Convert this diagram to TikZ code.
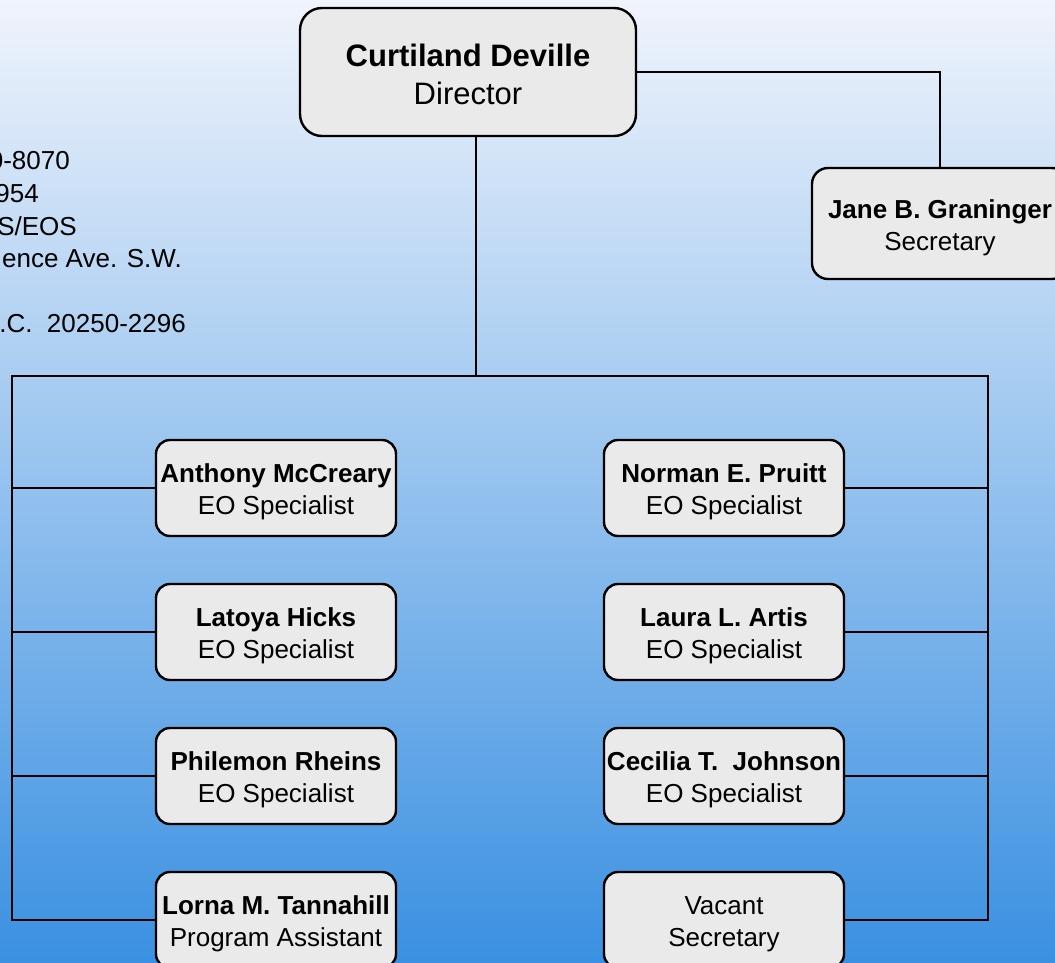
\documentclass[tikz,border=0pt]{standalone}
\usepackage{fontspec}
\setmainfont{Liberation Sans}
\definecolor{bgtop}{RGB}{240,244,252}
\definecolor{bgmid}{RGB}{160,192,238}
\definecolor{bgbot}{RGB}{58,144,225}
\definecolor{boxfill}{RGB}{234,234,234}
\newcommand{\lift}[1]{\rule{0pt}{#1}}
\begin{document}
\begin{tikzpicture}[x=1pt,y=-1pt,
  orgbox/.style={draw=black, line width=2.4pt, fill=boxfill, rounded corners=14pt,
    rectangle, inner sep=0pt, align=center, font=\fontsize{26}{32}\selectfont},
  conn/.style={draw=black, line width=2.4pt},
  info/.style={anchor=base east, inner sep=0pt, font=\fontsize{26}{32}\selectfont}]
\useasboundingbox (0,0) rectangle (1055,963);
\clip (0,0) rectangle (1055,963);
\shade[top color=bgtop, middle color=bgmid, bottom color=bgbot] (0,0) rectangle (1055,963);

% info text
\node[info] (t1) at (70,169) {0-8070};
\node[info] (t2) at (39,202) {954};
\node[info] (t3) at (77,235) {S/EOS};
\node[info] (t4) at (182,267) {ence Ave. S.W.};
\node[info] (t5) at (186,332) {.C.\ \ 20250-2296};

% boxes
\node[orgbox, rounded corners=22pt, minimum width=336pt, minimum height=128pt,
  font=\fontsize{31}{38}\selectfont] (dir) at (468,72) {\lift{27pt}\textbf{Curtiland Deville}\\Director};
\node[orgbox, rounded corners=16pt, minimum width=256pt, minimum height=111pt] (jane) at (940,223.5) {\lift{27pt}\textbf{Jane B. Graninger}\\Secretary};

\node[orgbox, minimum width=240pt, minimum height=96pt] (a1) at (276,488) {\lift{27pt}\textbf{Anthony McCreary}\\EO Specialist};
\node[orgbox, minimum width=240pt, minimum height=96pt] (a2) at (276,632) {\lift{27pt}\textbf{Latoya Hicks}\\EO Specialist};
\node[orgbox, minimum width=240pt, minimum height=96pt] (a3) at (276,776) {\lift{27pt}\textbf{Philemon Rheins}\\EO Specialist};
\node[orgbox, minimum width=240pt, minimum height=96pt] (a4) at (276,920) {\lift{27pt}\textbf{Lorna M. Tannahill}\\Program Assistant};

\node[orgbox, minimum width=240pt, minimum height=96pt] (b1) at (724,488) {\lift{27pt}\textbf{Norman E. Pruitt}\\EO Specialist};
\node[orgbox, minimum width=240pt, minimum height=96pt] (b2) at (724,632) {\lift{27pt}\textbf{Laura L. Artis}\\EO Specialist};
\node[orgbox, minimum width=240pt, minimum height=96pt] (b3) at (724,776) {\lift{27pt}\textbf{Cecilia T.\ \ Johnson}\\EO Specialist};
\node[orgbox, minimum width=240pt, minimum height=96pt] (b4) at (724,920) {\lift{27pt}Vacant\\Secretary};

% connector coordinates
\coordinate (hub) at (476,376);
\coordinate (lt) at (12,376);
\coordinate (rt) at (988,376);
\coordinate (lb) at (12,920);
\coordinate (rb) at (988,920);

% connectors
\draw[conn] (dir.east) -| (jane.north);
\draw[conn] (hub |- dir.south) -- (hub);
\draw[conn, line cap=rect] (lb) -- (lt) -- (rt) -- (rb);
\draw[conn] (lb) -- (a4.west);
\draw[conn] (rb) -- (b4.east);
\draw[conn] (a1.west) -- (a1.west -| lt);
\draw[conn] (a2.west) -- (a2.west -| lt);
\draw[conn] (a3.west) -- (a3.west -| lt);
\draw[conn] (b1.east) -- (b1.east -| rt);
\draw[conn] (b2.east) -- (b2.east -| rt);
\draw[conn] (b3.east) -- (b3.east -| rt);
\end{tikzpicture}
\end{document}
